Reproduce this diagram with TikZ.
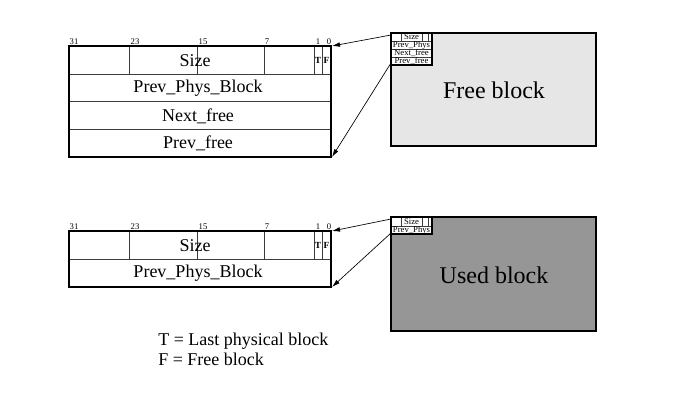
\documentclass[tikz,border=0pt]{standalone}
\usepackage{fontspec}
\setmainfont{Liberation Serif}
\usepackage{xcolor}
\usepackage{tikz}
\usetikzlibrary{arrows.meta, positioning, calc}
\definecolor{freegray}{RGB}{230, 230, 230}
\definecolor{usedgray}{RGB}{150, 150, 150}
\definecolor{divgray}{RGB}{60, 60, 60}

\begin{document}
\begin{tikzpicture}[x=0.75pt, y=-0.75pt,
    frame/.style={black, line width=1.3pt},
    divline/.style={divgray, line width=0.5pt},
    bitlbl/.style={inner sep=0pt, font=\fontsize{6.5}{7}\selectfont},
    fld/.style={inner sep=0pt, font=\fontsize{13.5}{15}\selectfont},
    flag/.style={inner sep=0pt, font=\fontsize{7}{8}\selectfont\bfseries},
    minifld/.style={inner sep=0pt, font=\fontsize{6.5}{7}\selectfont},
    bigtxt/.style={inner sep=0pt, font=\fontsize{18}{20}\selectfont},
    ptr/.style={-{Latex[length=6pt, width=3.5pt]}, line width=0.5pt}]
  \useasboundingbox (0,0) rectangle (693,406);

  % --- free header ---
  \draw[divline] (69,74) -- (331,74);
  \draw[divline] (69,101) -- (331,101);
  \draw[divline] (69,129) -- (331,129);
  \foreach \xx in {129, 197, 264, 314, 322}
    \draw[divline] (\xx,46) -- (\xx,74);
  \draw[frame] (69,46) rectangle (331,157);
  \coordinate (freg-tr) at (332,46);
  \coordinate (freg-br) at (332,157);
  \node[bitlbl] (fb31) at (74,42)  {31};
  \node[bitlbl] (fb23) at (135,42) {23};
  \node[bitlbl] (fb15) at (203,42) {15};
  \node[bitlbl] (fb7)  at (267,42) {7};
  \node[bitlbl] (fb1)  at (318,42) {1};
  \node[bitlbl] (fb0)  at (329,42) {0};
  \node[fld] (fsize) at (195,61)    {Size};
  \node[flag] (ft) at (318,60) {T};
  \node[flag] (ff) at (326.5,60) {F};
  \node[fld] (fprev) at (198,88.5)  {Prev\_Phys\_Block};
  \node[fld] (fnext) at (198,116)   {Next\_free};
  \node[fld] (fpfree) at (198,143.5) {Prev\_free};

  % --- free block ---
  \fill[freegray] (391,33) rectangle (596,146);
  \fill[white] (391,33) rectangle (432,65);
  \draw[divline] (391,41) -- (432,41);
  \draw[divline] (391,49) -- (432,49);
  \draw[divline] (391,57) -- (432,57);
  \foreach \xx in {401, 422, 428}
    \draw[divline] (\xx,33) -- (\xx,41);
  \draw[black, line width=0.9pt] (391,33) rectangle (432,65);
  \node[minifld] (fmsize) at (411.5,37) {Size};
  \node[minifld] (fmprev) at (411.5,45) {Prev\_Phys};
  \node[minifld] (fmnext) at (411.5,53) {Next\_free};
  \node[minifld] (fmpfree) at (411.5,61) {Prev\_free};
  \draw[frame] (391,33) rectangle (596,146);
  \node[bigtxt] (fblock) at (494,90) {Free block};
  \coordinate (fmini-tl) at (391,35);
  \coordinate (fmini-bl) at (391,63);
  \draw[ptr] (fmini-tl) -- (freg-tr);
  \draw[ptr] (fmini-bl) -- (freg-br);

  % --- used header ---
  \draw[divline] (69,259) -- (331,259);
  \foreach \xx in {129, 197, 264, 314, 322}
    \draw[divline] (\xx,231) -- (\xx,259);
  \draw[frame] (69,231) rectangle (331,287);
  \coordinate (ureg-tr) at (332,231);
  \coordinate (ureg-br) at (332,287);
  \node[bitlbl] (ub31) at (74,227)  {31};
  \node[bitlbl] (ub23) at (135,227) {23};
  \node[bitlbl] (ub15) at (203,227) {15};
  \node[bitlbl] (ub7)  at (267,227) {7};
  \node[bitlbl] (ub1)  at (318,227) {1};
  \node[bitlbl] (ub0)  at (329,227) {0};
  \node[fld] (usize) at (195,246) {Size};
  \node[flag] (ut) at (318,245) {T};
  \node[flag] (uf) at (326.5,245) {F};
  \node[fld] (uprev) at (198,273.5) {Prev\_Phys\_Block};

  % --- used block ---
  \fill[usedgray] (391,217) rectangle (596,331);
  \fill[white] (391,217) rectangle (432,234);
  \draw[divline] (391,226) -- (432,226);
  \foreach \xx in {401, 422, 428}
    \draw[divline] (\xx,217) -- (\xx,226);
  \draw[black, line width=0.9pt] (391,217) rectangle (432,234);
  \node[minifld] (umsize) at (411.5,221.5) {Size};
  \node[minifld] (umprev) at (411.5,230) {Prev\_Phys};
  \draw[frame] (391,217) rectangle (596,331);
  \node[bigtxt] (ublock) at (494,275) {Used block};
  \coordinate (umini-tl) at (391,219);
  \coordinate (umini-bl) at (391,233);
  \draw[ptr] (umini-tl) -- (ureg-tr);
  \draw[ptr] (umini-bl) -- (ureg-br);

  % --- legend ---
  \node[fld, anchor=west] (legt) at (158,341) {T = Last physical block};
  \node[fld, anchor=west] (legf) at (158,359) {F = Free block};
\end{tikzpicture}
\end{document}
